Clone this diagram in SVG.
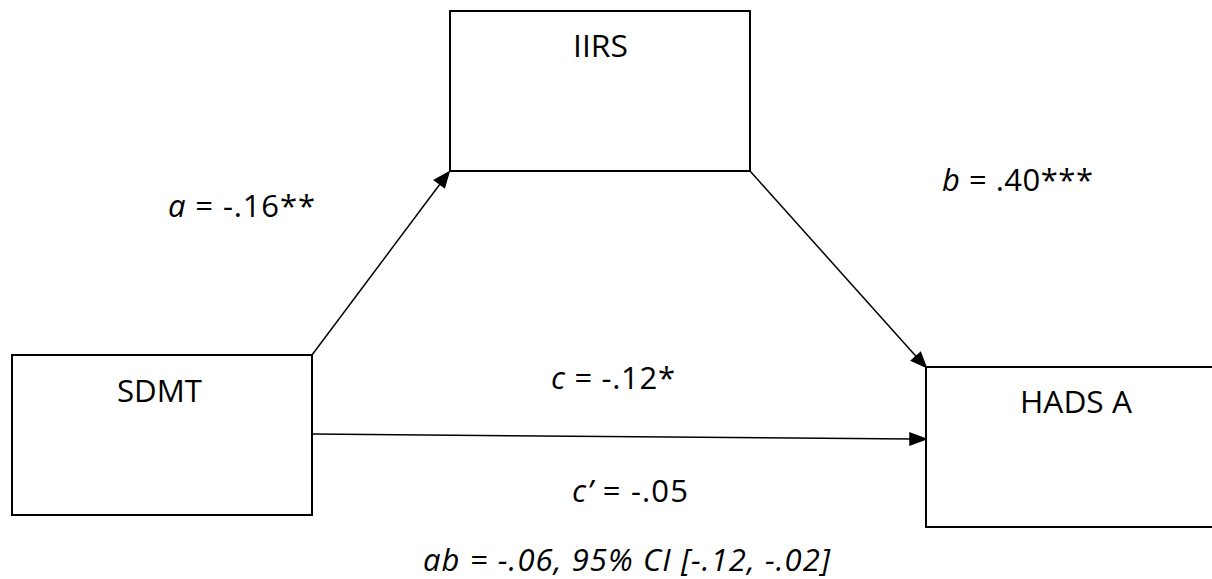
<svg xmlns="http://www.w3.org/2000/svg" width="1212" height="579" viewBox="0 0 1212 579">
<defs>
<style>
.box{fill:#fff;stroke:#000;stroke-width:2}
.lbl{font-family:"Open Sans","Liberation Sans",sans-serif;font-size:31px;fill:#000}
.it{font-style:italic}
</style>
</defs>
<rect width="1212" height="579" fill="#fff"/>
<g id="connectors" stroke="#000" stroke-width="1.5">
<line x1="312" y1="355" x2="446" y2="176"/>
<path d="M449,172 L444.5,187.5 L434.5,180 z" fill="#000"/>
<line x1="750" y1="171" x2="922" y2="363"/>
<path d="M926,367 L911.5,360.5 L920.5,352.5 z" fill="#000"/>
<line x1="312" y1="434" x2="912" y2="439"/>
<path d="M926,439 L910,445 L910,433 z" fill="#000"/>
</g>
<g id="node-sdmt">
<rect class="box" x="12" y="355" width="300" height="160"/>
<text class="lbl" x="117" y="402" textLength="85" lengthAdjust="spacingAndGlyphs">SDMT</text>
</g>
<g id="node-iirs">
<rect class="box" x="450" y="11" width="300" height="160"/>
<text class="lbl" x="573" y="57" textLength="55" lengthAdjust="spacingAndGlyphs">IIRS</text>
</g>
<g id="node-hads">
<rect class="box" x="926" y="367" width="300" height="160"/>
<text class="lbl" x="1020" y="413" textLength="112" lengthAdjust="spacingAndGlyphs">HADS A</text>
</g>
<g id="labels">
<text class="lbl" x="168" y="217" textLength="147"><tspan class="it">a</tspan> = -.16**</text>
<text class="lbl" x="942" y="191" textLength="151"><tspan class="it">b</tspan> = .40***</text>
<text class="lbl" x="551" y="389" textLength="124"><tspan class="it">c</tspan> = -.12*</text>
<text class="lbl" x="572" y="502" textLength="116"><tspan class="it">c’</tspan> = -.05</text>
<text class="lbl it" x="423" y="571" textLength="407">ab = -.06, 95% CI [-.12, -.02]</text>
</g>
</svg>
